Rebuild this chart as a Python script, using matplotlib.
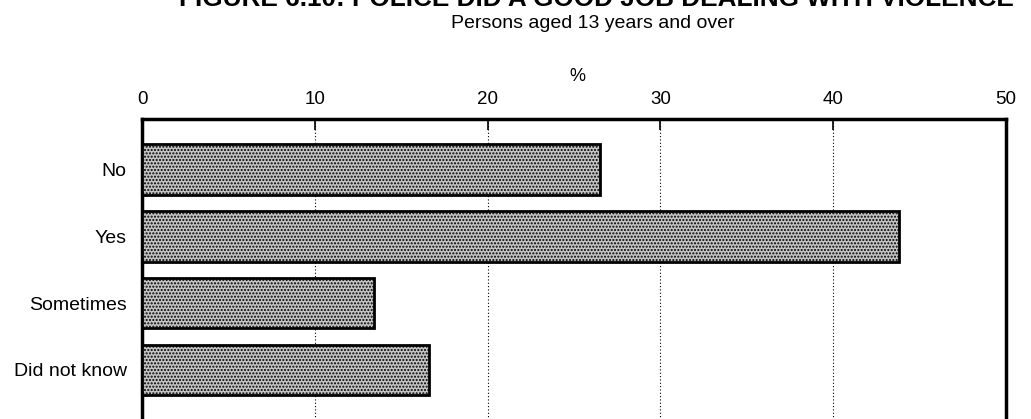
import matplotlib.pyplot as plt
import numpy as np

plt.rcParams['font.family'] = ['Liberation Sans', 'DejaVu Sans']

# Survey responses (%)
categories = ["No", "Yes", "Sometimes", "Did not know"]
values = [26.5, 43.8, 13.4, 16.6]
x_ticks = [0, 10, 20, 30, 40, 50]

title = "FIGURE 6.10: POLICE DID A GOOD JOB DEALING WITH VIOLENCE"
subtitle = "Persons aged 13 years and over"

W, H = 1031, 419
fig = plt.figure(figsize=(W / 100, H / 100), dpi=100)

# axes box runs past the bottom edge of the page
left, right = 142 / W, 1006 / W
top = 1 - 119 / H
bottom = 1 - 560 / H
ax = fig.add_axes([left, bottom, right - left, top - bottom])

y = np.arange(len(categories))
ax.barh(y, values, height=0.76, color="#c4c4c4", edgecolor="black",
        linewidth=2.0, hatch=".....", zorder=3)

ax.set_xlim(0, 50)
ax.set_ylim(5.85, -0.76)
ax.set_yticks(y)
ax.set_yticklabels(categories, fontsize=14)
ax.tick_params(axis="y", length=0, pad=11)

ax.xaxis.tick_top()
ax.set_xticks(x_ticks)
ax.set_xticklabels([str(t) for t in x_ticks], fontsize=13.5)
ax.tick_params(axis="x", direction="in", length=8, width=1.2, pad=8)
ax.xaxis.set_label_position("top")
ax.set_xlabel("%", fontsize=13, labelpad=6)
ax.xaxis.set_label_coords((577 - 142) / (1006 - 142), 1 + 38 / (560 - 119))

ax.grid(axis="x", linestyle=(0, (1, 2)), color="black", linewidth=0.8, zorder=1)

for side in ("top", "left", "right"):
    ax.spines[side].set_linewidth(2.5)
ax.spines["bottom"].set_visible(False)

fig.text(596 / W, 1 - 6 / H, title, ha="center", va="baseline",
         fontsize=18.8, fontweight="bold")
fig.text(593 / W, 1 - 24 / H, subtitle, ha="center", va="center", fontsize=14)

fig.savefig("out.png", dpi=100)
